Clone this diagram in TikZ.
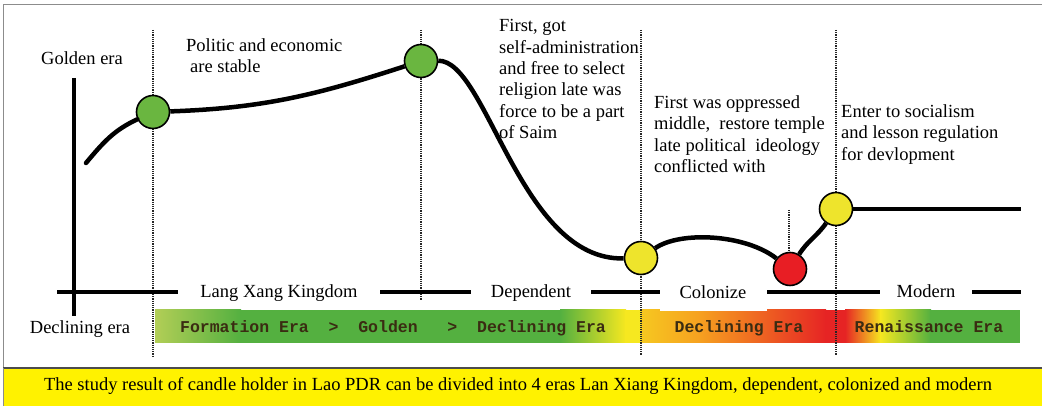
\documentclass[tikz,border=0pt]{standalone}
\usepackage{fontspec}
\setmainfont{Liberation Serif}
\setmonofont{Liberation Mono}
\usepackage{tikz}

\definecolor{barGreen}{RGB}{84,176,64}
\definecolor{barLime}{RGB}{178,206,86}
\definecolor{barYellow}{RGB}{246,232,32}
\definecolor{barOrange}{RGB}{246,160,32}
\definecolor{barRed}{RGB}{230,36,36}
\definecolor{ptGreen}{RGB}{106,182,64}
\definecolor{ptYellow}{RGB}{238,228,44}
\definecolor{ptRed}{RGB}{232,30,36}
\definecolor{boxYellow}{RGB}{255,242,0}
\definecolor{eraText}{RGB}{58,44,18}

\begin{document}
\begin{tikzpicture}[x=1pt,y=1pt,
  stage/.style={circle, draw=black, line width=1.6pt, minimum size=33pt, inner sep=0pt},
  divider/.style={densely dotted, line width=1.2pt, black!85},
  trend/.style={line width=4.5pt},
  axislabel/.style={fill=white, anchor=base, inner ysep=3pt, font=\fontsize{18.5}{21.3}\selectfont},
  note/.style={anchor=north west, inner sep=0pt, align=left, font=\fontsize{18.5}{21.3}\selectfont},
  eratext/.style={anchor=base, inner sep=0pt, text=eraText, font=\fontsize{16.5}{18}\ttfamily\bfseries}
]
\useasboundingbox (0,0) rectangle (1042,406);

%% frame and caption box
\draw[black!45, line width=1pt] (3,38) -- (3,401) -- (1042,401);
\fill[boxYellow] (3,0) rectangle (1042,38);
\draw[black!70, line width=1.2pt] (3,38) -- (1042,38);
\draw[black!45, line width=1pt] (3,0) -- (3,38);

%% colour bar
\shade[left color=barLime, right color=barGreen] (155,63) rectangle (241,96);
\fill[barGreen] (240,63) rectangle (561,96);
\shade[left color=barGreen, right color=barYellow] (560,63) rectangle (626,96);
\fill[barYellow] (625,63) rectangle (642,96);
\shade[left color=barYellow!55!barOrange, right color=barOrange] (641,63) rectangle (701,96);
\shade[left color=barOrange, right color=barRed] (700,63) rectangle (826,96);
\fill[barRed] (825,63) rectangle (846,96);
\shade[left color=barRed, right color=barYellow] (845,63) rectangle (881,96);
\shade[left color=barYellow, right color=barGreen] (880,63) rectangle (931,96);
\fill[barGreen] (930,63) rectangle (1020,96);

%% dividers
\draw[divider] (153,376) -- (153,49);
\draw[divider] (421,376) -- (421,106);
\draw[divider] (641,376) -- (641,51);
\draw[divider] (836,376) -- (836,51);
\draw[divider] (789,196) -- (789,154);

%% axes
\coordinate (axisTop) at (74,328);
\coordinate (axisBottom) at (74,90);
\coordinate (axisLeft) at (57,114);
\coordinate (axisRight) at (1021,114);
\draw[line width=4pt] (axisTop) -- (axisBottom);
\draw[line width=4pt] (axisLeft) -- (axisRight);

%% axis labels
\node[axislabel, inner xsep=22pt] (kingdom) at (279,108) {Lang Xang Kingdom};
\node[axislabel, inner xsep=19.5pt] (dependent) at (531,108) {Dependent};
\node[fill=white, minimum width=107pt, minimum height=38pt, inner sep=0pt,
      font=\fontsize{18.5}{21.3}\selectfont] (colonize) at (713,114) {Colonize};
\node[axislabel, inner xsep=16.5pt] (modern) at (926,108) {Modern};

\node[axislabel, fill=none] (golden) at (82,341) {Golden era};
\node[axislabel, fill=none] (declining) at (80,72) {Declining era};

%% era names on the bar
\node[eratext] (lxkEras) at (393,73) {Formation Era~~>~~Golden~~~>~~Declining Era};
\node[eratext] (colEra) at (739,73) {Declining Era};
\node[eratext] (modEra) at (929,73) {Renaissance Era};

%% stage points
\node[stage, fill=ptGreen] (g1) at (153,294) {};
\node[stage, fill=ptGreen] (g2) at (421,345) {};
\node[stage, fill=ptYellow] (y1) at (641,148) {};
\node[stage, fill=ptRed] (r1) at (790,137) {};
\node[stage, fill=ptYellow] (y2) at (836,197) {};
\coordinate (start) at (86,243);
\coordinate (finish) at (1021,197);

%% trend curve
\draw[trend, line cap=round] (start) to[out=50, in=205] (g1);
\draw[trend] (g1) to[out=2, in=198] (g2);
\draw[trend] (g2) .. controls (487,346) and (520,145) .. (y1);
\draw[trend] (y1) .. controls (680,175) and (745,172) .. (r1);
\draw[trend] (r1) to[out=58, in=235] (y2);
\draw[trend] (y2) -- (finish);

%% notes
\node[note] (stable) at (186,367.6) {Politic and economic\\\hspace{4pt}are stable};
\node[note] (selfadmin) at (499,386.6) {First, got\\self-administration\\and free to select\\religion late was\\force to be a part\\of Saim};
\node[note] (oppressed) at (654,310.6) {First was oppressed\\middle,~ restore temple\\late political~ ideology\\conflicted with};
\node[note] (socialism) at (841,301.6) {Enter to socialism\\and lesson regulation\\for devlopment};

%% caption
\node[anchor=base, inner sep=0pt, font=\fontsize{18.5}{21}\selectfont] (caption) at (518,15)
  {The study result of candle holder in Lao PDR can be divided into 4 eras Lan Xiang Kingdom, dependent, colonized and modern};
\end{tikzpicture}
\end{document}
